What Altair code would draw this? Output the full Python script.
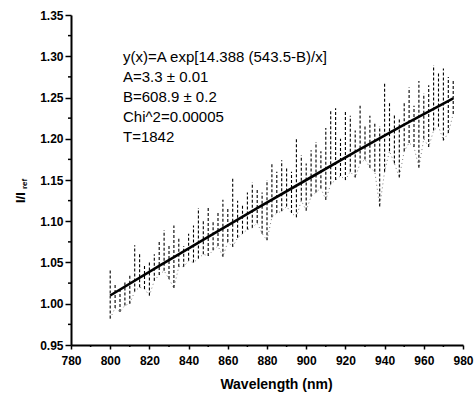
import altair as alt
import pandas as pd

# --- data ---
wavelength = [800, 802.5, 805, 807.5, 810, 812.5, 815, 817.5, 820, 822.5,
              825, 827.5, 830, 832.5, 835, 837.5, 840, 842.5, 845, 847.5,
              850, 852.5, 855, 857.5, 860, 862.5, 865, 867.5, 870, 872.5,
              875, 877.5, 880, 882.5, 885, 887.5, 890, 892.5, 895, 897.5,
              900, 902.5, 905, 907.5, 910, 912.5, 915, 917.5, 920, 922.5,
              925, 927.5, 930, 932.5, 935, 937.5, 940, 942.5, 945, 947.5,
              950, 952.5, 955, 957.5, 960, 962.5, 965, 967.5, 970, 972.5, 975]
ratio_high = [1.041, 1.025, 1.020, 1.028, 1.035, 1.071, 1.060, 1.048, 1.052, 1.060,
              1.075, 1.089, 1.070, 1.095, 1.080, 1.070, 1.085, 1.095, 1.116, 1.100,
              1.116, 1.100, 1.112, 1.126, 1.115, 1.153, 1.125, 1.120, 1.135, 1.147,
              1.140, 1.135, 1.150, 1.170, 1.160, 1.174, 1.165, 1.160, 1.201, 1.180,
              1.170, 1.186, 1.196, 1.185, 1.213, 1.235, 1.237, 1.200, 1.235, 1.228,
              1.210, 1.240, 1.215, 1.228, 1.220, 1.215, 1.267, 1.243, 1.230, 1.225,
              1.245, 1.262, 1.240, 1.270, 1.255, 1.265, 1.289, 1.280, 1.285, 1.275, 1.270]
ratio_low = [0.982, 0.995, 0.990, 0.998, 1.000, 1.015, 1.020, 1.018, 1.010, 1.028,
             1.035, 1.040, 1.030, 1.019, 1.045, 1.045, 1.052, 1.050, 1.055, 1.060,
             1.058, 1.065, 1.070, 1.057, 1.075, 1.069, 1.080, 1.085, 1.090, 1.092,
             1.098, 1.085, 1.077, 1.105, 1.110, 1.112, 1.118, 1.110, 1.105, 1.125,
             1.113, 1.130, 1.135, 1.140, 1.126, 1.145, 1.150, 1.155, 1.150, 1.160,
             1.153, 1.170, 1.175, 1.165, 1.160, 1.118, 1.160, 1.185, 1.170, 1.153,
             1.185, 1.195, 1.190, 1.165, 1.200, 1.190, 1.210, 1.215, 1.198, 1.207, 1.230]

fit_wavelength = [800, 825, 850, 875, 900, 925, 950, 975]
fit_ratio = [1.010, 1.046, 1.081, 1.116, 1.150, 1.184, 1.217, 1.249]

x_major = [780, 800, 820, 840, 860, 880, 900, 920, 940, 960, 980]
x_minor = [790, 810, 830, 850, 870, 890, 910, 930, 950, 970]
y_major = [0.95, 1.00, 1.05, 1.10, 1.15, 1.20, 1.25, 1.30, 1.35]
y_minor = [0.975, 1.025, 1.075, 1.125, 1.175, 1.225, 1.275, 1.325]

annotation_lines = ["y(x)=A exp[14.388 (543.5-B)/x]",
                    "A=3.3 \u00b1 0.01",
                    "B=608.9 \u00b1 0.2",
                    "Chi^2=0.00005",
                    "T=1842"]

noise_df = pd.DataFrame({"wl": wavelength, "hi": ratio_high, "lo": ratio_low})
fit_df = pd.DataFrame({"wl": fit_wavelength, "r": fit_ratio})

FONT = "Liberation Sans"

xscale = alt.Scale(domain=[780, 980], nice=False, zero=False)
yscale = alt.Scale(domain=[0.95, 1.35], nice=False, zero=False)

x_axis = alt.Axis(
    values=x_major, format="d", title="Wavelength (nm)",
    tickSize=4, labelPadding=6, labelOverlap=False, labelFlush=False,
    labelBound=False,
    titleFontSize=14, titleFont=FONT, titleFontWeight="bold",
    titleX=205, titleY=43, titleBaseline="alphabetic", titleColor="black",
)
y_axis = alt.Axis(values=y_major, format=".2f", title=None, tickSize=6,
                  labelPadding=2, labelOverlap=False)

noise = alt.Chart(noise_df).mark_rule(color="black", strokeWidth=1.1,
                                      strokeDash=[3, 2]).encode(
    x=alt.X("wl:Q", scale=xscale, axis=x_axis),
    y=alt.Y("lo:Q", scale=yscale, axis=y_axis),
    y2="hi:Q",
)

noise_dots = alt.Chart(noise_df).mark_line(color="black", strokeWidth=0.5,
                                           strokeDash=[1, 3]).encode(
    x=alt.X("wl:Q", scale=xscale, axis=x_axis),
    y=alt.Y("lo:Q", scale=yscale, axis=y_axis),
)

fit = alt.Chart(fit_df).mark_line(color="black", strokeWidth=2.6).encode(
    x=alt.X("wl:Q", scale=xscale, axis=x_axis),
    y=alt.Y("r:Q", scale=yscale, axis=y_axis),
)

minor_x = alt.Chart(pd.DataFrame({"wl": x_minor})).mark_rule(
    color="black", strokeWidth=1.5).encode(
    x=alt.X("wl:Q", scale=xscale, axis=x_axis),
    y=alt.value(330), y2=alt.value(332),
)
minor_y = alt.Chart(pd.DataFrame({"r": y_minor})).mark_rule(
    color="black", strokeWidth=1.5).encode(
    y=alt.Y("r:Q", scale=yscale, axis=y_axis),
    x=alt.value(-3), x2=alt.value(0),
)

texts = []
for i, line in enumerate(annotation_lines):
    texts.append(
        alt.Chart(pd.DataFrame({"t": [line]})).mark_text(
            align="left", baseline="middle", font=FONT, fontSize=15, color="black"
        ).encode(x=alt.value(52), y=alt.value(42 + 20 * i), text="t:N")
    )

ytitle_main = alt.Chart(pd.DataFrame({"t": ["I/I"]})).mark_text(
    align="left", baseline="middle", angle=270, font=FONT, fontSize=13,
    fontWeight="bold", color="black"
).encode(x=alt.value(-50), y=alt.value(188), text="t:N")
ytitle_sub = alt.Chart(pd.DataFrame({"t": ["ref"]})).mark_text(
    align="left", baseline="middle", angle=270, font=FONT, fontSize=8,
    fontWeight="bold", color="black"
).encode(x=alt.value(-46), y=alt.value(174), text="t:N")

chart = alt.layer(noise, noise_dots, fit, minor_x, minor_y, *texts,
                  ytitle_main, ytitle_sub).properties(
    width=392, height=330,
    padding={"left": 71, "top": 15, "right": 11, "bottom": 51},
    autosize=alt.AutoSizeParams(type="none"),
).configure_view(stroke=None).configure_axis(
    domainColor="black", domainWidth=2, tickColor="black", tickWidth=1.5,
    labelFont=FONT, labelFontWeight="bold", labelFontSize=12, labelColor="black",
    grid=False, labelOverlap=False,
)

chart.save("out.html", embed_options={"renderer": "svg", "actions": False})
